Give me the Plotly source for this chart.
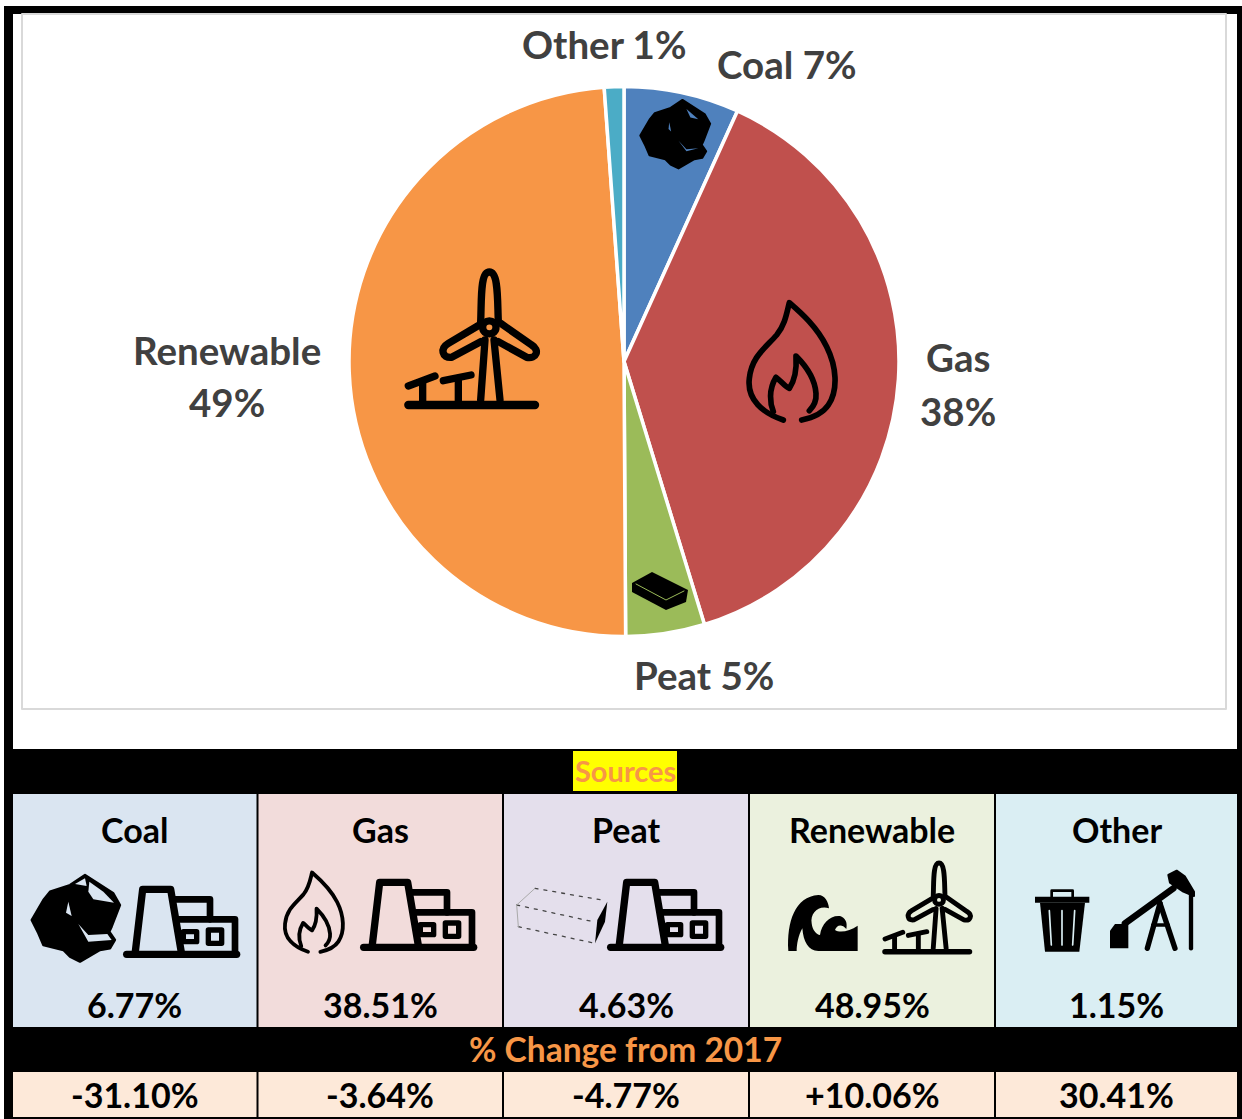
import re
import plotly.graph_objects as go

W, H = 1242, 1119

# ---- data ----
sources = ["Coal", "Gas", "Peat", "Renewable", "Other"]
shares = [6.77, 38.51, 4.63, 48.95, 1.15]
share_labels = ["6.77%", "38.51%", "4.63%", "48.95%", "1.15%"]
changes = ["-31.10%", "-3.64%", "-4.77%", "+10.06%", "30.41%"]
pie_label_lines = [["Coal 7%"], ["Gas", "38%"], ["Peat 5%"], ["Renewable", "49%"], ["Other 1%"]]

# ---- styles ----
pie_colors = ["#4f81bd", "#c0504d", "#9bbb59", "#f79646", "#4bacc6"]
panel_colors = ["#dae5f1", "#f2dcdb", "#e4dfec", "#ebf1de", "#daeef3"]
change_bg = "#fde9d9"
FONT = "Lato"
GREY = "#404040"
ORANGE = "#f79646"

panel_x = [(13, 256.5), (258.5, 502), (504, 748), (750, 994), (996, 1237)]
label_pos = [[(787, 65)], [(958, 359), (958, 412)], [(704, 676)], [(227, 351), (227, 403)], [(604, 46)]]


def fx(x):
    return x / W


def fy(y):
    return 1 - y / H


fig = go.Figure()
fig.add_trace(go.Pie(
    labels=sources, values=shares, sort=False, direction="clockwise", rotation=0,
    marker=dict(colors=pie_colors, line=dict(color="white", width=3.5)),
    textinfo="none", hoverinfo="label+percent", showlegend=False,
    domain=dict(x=[fx(349), fx(899)], y=[fy(636.5), fy(86.5)]),
))


def rect(x0, y0, x1, y1, fill, line=None, lw=0, layer="below"):
    fig.add_shape(type="rect", xref="paper", yref="paper", x0=fx(x0), x1=fx(x1), y0=fy(y1), y1=fy(y0),
                  fillcolor=fill, layer=layer,
                  line=dict(color=line, width=lw) if line else dict(width=0))


def path(d, ox, oy, s, fill=None, color=None, width=0, dash=None):
    def rep(m):
        x = ox + float(m.group(1)) * s
        y = oy + float(m.group(2)) * s
        return f"{fx(x):.5f},{fy(y):.5f}"
    p = re.sub(r"(-?[\d.]+),(-?[\d.]+)", rep, d)
    line = dict(color=color, width=width) if color else dict(width=0)
    if dash:
        line["dash"] = dash
    fig.add_shape(type="path", path=p, xref="paper", yref="paper", layer="above",
                  fillcolor=fill if fill else "rgba(0,0,0,0)", line=line)


def text(x, y, t, size, color="black", bold=True):
    fig.add_annotation(x=fx(x), y=fy(y - 1.5), xref="paper", yref="paper", text=f"<b>{t}</b>" if bold else t,
                       showarrow=False, xanchor="center", yanchor="middle",
                       font=dict(family=FONT, size=size, color=color))


def turbine(ox, oy, s):
    w = 22 * s
    for d in ["M272,185 C275,120 270,36 298,36 C326,36 322,120 325,185",
              "M268,195 L175,250 C150,265 155,295 185,292 L272,245",
              "M332,190 L425,255 C450,270 440,298 410,292 L325,245",
              "M272,420 L285,240", "M330,420 L312,240",
              "M278,202 C278,176 318,176 318,202 C318,228 278,228 278,202 Z",
              "M55,378 L135,348", "M160,362 L243,345", "M98,365 L98,430", "M205,355 L205,430"]:
        path(d, ox, oy, s, color="black", width=w)
    path("M55,435 L435,435", ox, oy, s, color="black", width=25 * s)


def flame(ox, oy, s):
    w = 17 * s
    path("M160,390 C100,370 50,330 58,265 C65,200 105,175 140,135 C165,105 170,70 178,38 "
         "C215,70 260,110 290,170 C320,230 325,300 295,345 C275,375 240,385 215,390",
         ox, oy, s, color="black", width=w)
    path("M130,365 C120,340 115,300 138,262 C150,270 165,290 178,295 C195,270 200,230 198,198 "
         "C230,230 255,265 258,310 C260,335 250,350 238,362", ox, oy, s, color="black", width=w)


def coal(ox, oy, s, bg, thin=False):
    path("M195,45 L280,100 L300,135 L275,200 L268,215 L285,240 L270,265 L240,270 L180,305 L150,290 "
         "L130,270 L70,255 L55,220 L35,180 L70,120 L90,95 L150,75 Z", ox, oy, s, fill="black",
         color="black", width=7 * s)
    if thin:
        path("M210,80 L255,118 L225,112 Z", ox, oy, s, fill=bg)
        path("M145,130 L152,165 L142,155 Z", ox, oy, s, fill=bg)
        path("M180,200 L210,232 L255,228 L210,240 Z", ox, oy, s, fill=bg)
    else:
        path("M208,65 L250,95 L282,128 L220,118 L205,95 Z", ox, oy, s, fill=bg)
        path("M165,72 L195,55 L200,78 Z", ox, oy, s, fill=bg)
        path("M145,125 L155,168 L138,158 Z", ox, oy, s, fill=bg)
        path("M175,192 L205,225 L262,222 L275,240 L205,245 Z", ox, oy, s, fill=bg)


def plant(ox, oy, s=1 / 3):
    for d, w in [("M320,283 L650,283", 22), ("M345,283 L368,88 L452,88 L485,283", 22),
                 ("M462,118 L570,118 L570,178", 20), ("M470,178 L645,178 L645,283", 20),
                 ("M490,215 L530,215 L530,245 L490,245 Z", 16), ("M565,210 L605,210 L605,250 L565,250 Z", 16)]:
        path(d, ox, oy, s, color="black", width=w * s)


def peat_outline(ox, oy, s):
    for d in ["M75,85 L275,120", "M20,135 L250,185", "M25,200 L255,250"]:
        path(d, ox, oy, s, color="#444444", width=1.3, dash="3px,6px")
    path("M20,135 L75,85", ox, oy, s, color="#aaaaaa", width=1)
    path("M20,135 L25,200", ox, oy, s, color="#aaaaaa", width=1)
    path("M292,125 L262,180 L255,250 L285,185 Z", ox, oy, s, fill="black")


def wave(ox, oy, s):
    path("M40,288 C35,200 60,125 130,120 C150,120 160,140 162,160 C130,150 105,175 110,205 "
         "C112,225 125,240 135,240 C140,205 165,180 195,183 C210,188 218,200 214,222 C200,205 185,210 180,225 "
         "C195,235 225,228 248,212 L248,288 L130,288 C100,288 85,260 82,220 C70,240 65,270 65,288 Z",
         ox, oy, s, fill="black")


def trash(ox, oy, s, bg):
    path("M45,110 L208,110 L208,128 L45,128 Z", ox, oy, s, fill="black")
    path("M95,110 L95,92 L158,92 L158,110", ox, oy, s, color="black", width=8 * s)
    path("M60,128 L195,128 L178,275 L75,275 Z", ox, oy, s, fill="black")
    for d in ["M88,152 L94,255", "M126,152 L126,255", "M164,152 L158,255"]:
        path(d, ox, oy, s, color=bg, width=5 * s)


def pump(ox, oy, s):
    path("M270,265 L270,212 L285,192 L325,192 L325,265 Z", ox, oy, s, fill="black")
    path("M315,190 L460,85", ox, oy, s, color="black", width=20 * s)
    path("M445,45 L470,32 L495,50 L522,95 L522,108 L490,95 L450,68 Z", ox, oy, s, fill="black",
         color="black", width=6 * s)
    path("M513,100 L513,265", ox, oy, s, color="black", width=13 * s)
    path("M420,130 L382,265", ox, oy, s, color="black", width=16 * s)
    path("M420,130 L465,265", ox, oy, s, color="black", width=16 * s)
    path("M398,195 L445,195", ox, oy, s, color="black", width=10 * s)


# frame and backgrounds
rect(4, 6, 1242, 1119, "black")
rect(13, 14, 1237, 749, "white")
rect(22, 14, 1226, 709, "white", line="#d9d9d9", lw=2)
rect(573, 751, 677, 791, "#ffff00")
for (x0, x1), c, name, sh, ch in zip(panel_x, panel_colors, sources, share_labels, changes):
    rect(x0, 794, x1, 1027, c)
    rect(x0, 1072, x1, 1117, change_bg)
    cx = (x0 + x1) / 2
    text(cx, 831, name, 34)
    text(cx, 1006, sh, 34)
    text(cx, 1096, ch, 34)

text(625, 772, "Sources", 29, color=ORANGE)
text(625, 1050, "% Change from 2017", 33.5, color=ORANGE)

# pie labels
for lines, poss in zip(pie_label_lines, label_pos):
    for t, (x, y) in zip(lines, poss):
        text(x, y, t, 38.5, color=GREY)

# pie icons
coal(631, 88, 0.264, pie_colors[0], thin=True)
flame(730, 290, 1 / 3)
turbine(390, 260, 1 / 3)
path("M632,583 L652,572 L688,590 L686,602 L666,610 L632,592 Z", 0, 0, 1, fill="black")
path("M636,584 L666,600 L684,591", 0, 0, 1, color=pie_colors[2], width=1)

# panel icons
coal(20, 860, 1 / 3, panel_colors[0])
plant(20, 860)
flame(272, 864, 0.225)
plant(257, 853)
peat_outline(510, 860, 1 / 3)
plant(504, 853)
wave(775, 855, 1 / 3)
turbine(872.8, 855, 0.2222)
trash(1020, 860, 1 / 3, panel_colors[4])
pump(1020, 860, 1 / 3)

fig.update_layout(width=W, height=H, margin=dict(l=0, r=0, t=0, b=0), autosize=False,
                  paper_bgcolor="white", plot_bgcolor="white", showlegend=False)

post = ("document.body.style.margin='0';document.documentElement.style.overflow='hidden';"
        "var s=document.createElement('style');"
        "s.textContent='.shapelayer path{stroke-linecap:round;stroke-linejoin:round}';"
        "document.head.appendChild(s);")
fig.write_html("out.html", post_script=post, config=dict(displayModeBar=False))
